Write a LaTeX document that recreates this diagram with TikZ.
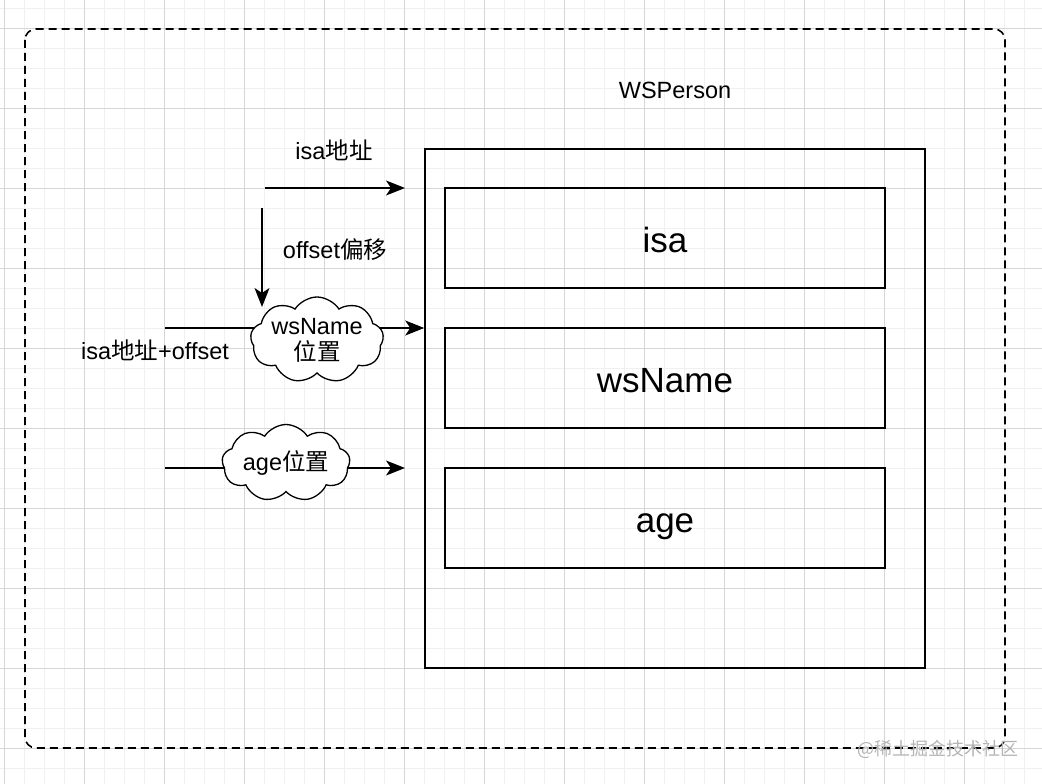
\documentclass[tikz,border=0pt]{standalone}
\usepackage{fontspec}
\setmainfont{Liberation Sans}
\newfontfamily\cjk{Noto Sans CJK SC}
\usetikzlibrary{arrows.meta,calc,shapes.symbols}

\definecolor{gridminor}{HTML}{F0F0F0}
\definecolor{gridmajor}{HTML}{D6D6D6}
\definecolor{markgray}{HTML}{B4B4B4}

\tikzset{
    field/.style={draw, line width=1.3pt, minimum width=440, minimum height=100, text height=32pt, text depth=3pt, font=\fontsize{35}{40}\selectfont},
    label/.style={font=\fontsize{23.5}{27}\selectfont},
    place/.style={cloud, cloud ignores aspect, draw, fill=white, line width=1.3pt, cloud puffs=9, cloud puff arc=115, align=center, inner sep=0pt, font=\fontsize{23.5}{26}\selectfont},
    ptr/.style={line width=1.3pt, -{Stealth[length=19pt,width=15pt,inset=5pt]}}
}

\begin{document}
\begin{tikzpicture}[x=1pt,y=-1pt]
            \useasboundingbox (0,0) rectangle (1042,784);
            \foreach \x in {4,24,...,1044}
            \draw[gridminor, line width=0.8pt] (\x,0) -- (\x,784);
            \foreach \y in {8,28,...,784}
            \draw[gridminor, line width=0.8pt] (0,\y) -- (1042,\y);
            \foreach \x in {4,84,...,1044}
            \draw[gridmajor, line width=0.8pt] (\x,0) -- (\x,784);
            \foreach \y in {28,108,...,784}
            \draw[gridmajor, line width=0.8pt] (0,\y) -- (1042,\y);
            \draw[dashed, dash pattern=on 8pt off 5pt, line width=1.6pt, rounded corners=11pt] (25,29) rectangle (1005,748);
            \node[markgray, font=\cjk\fontsize{18}{20}\selectfont] (mark) at (938,749) {@稀土掘金技术社区};
            \node[label] (title) at (675,90) {WSPerson};
            \node[draw, line width=1.5pt, minimum width=500, minimum height=519] (obj) at (675,408.5) {};
            \node[field] (isa) at (665,238) {isa};
            \node[field] (wsname) at ($(isa)+(0,140)$) {wsName};
            \node[field] (age) at ($(wsname)+(0,140)$) {age};
            \coordinate (isaFrom) at (265,188);
            \coordinate (isaTo) at (405,188);
            \coordinate (offFrom) at (262,208);
            \coordinate (offTo) at (262,307);
            \coordinate (wsFrom) at (165,328);
            \coordinate (ageFrom) at (165,468);
            \coordinate (ageTo) at (405,468);
            \draw[ptr] (isaFrom) -- (isaTo);
            \draw[ptr] (offFrom) -- (offTo);
            \draw[ptr] (wsFrom) -- (wsFrom -| obj.west);
            \draw[ptr] (ageFrom) -- (ageTo);
            \node[place, minimum width=128, minimum height=86] (wsplace) at (317,340) {wsName\\{\cjk 位置}};
            \node[place, minimum width=128, minimum height=77] (ageplace) at (286,463) {age{\cjk 位置}};
            \node[label] (isalbl) at (334,150) {isa{\cjk 地址}};
            \node[label] (offlbl) at (335,250) {offset{\cjk 偏移}};
            \node[label] (sumlbl) at (155,350) {isa{\cjk 地址}+offset};
\end{tikzpicture}
\end{document}
